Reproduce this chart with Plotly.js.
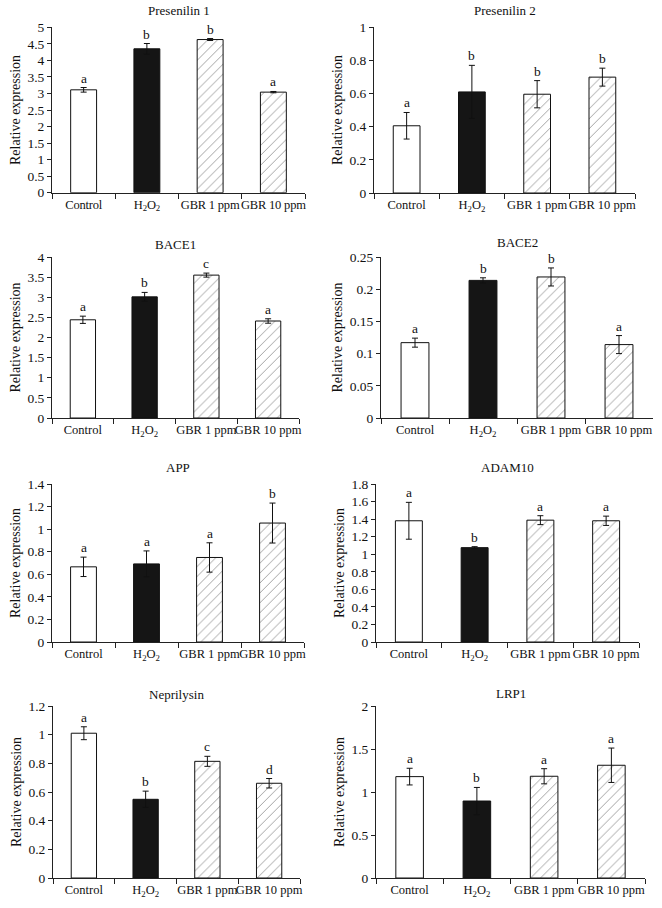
<!DOCTYPE html>
<html>
<head>
<meta charset="utf-8">
<script src="https://cdn.plot.ly/plotly-3.0.1.min.js"></script>
<style>
html,body{margin:0;padding:0;background:#fff;}
#chart{width:662px;height:908px;}
.xtick text{letter-spacing:-0.2px;}
</style>
</head>
<body>
<div id="chart"></div>
<script>
// ---------- DATA ----------
const categories = ['Control', 'H2O2', 'GBR 1 ppm', 'GBR 10 ppm'];
const tickLabels = ['Control', 'H<sub>2</sub>O<sub>2</sub>', 'GBR 1 ppm', 'GBR 10 ppm'];
const geneNames = ['Presenilin 1', 'Presenilin 2', 'BACE1', 'BACE2', 'APP', 'ADAM10', 'Neprilysin', 'LRP1'];

const presenilin1Mean = [3.11, 4.35, 4.63, 3.04];
const presenilin1Err = [0.07, 0.16, 0.03, 0.02];
const presenilin1Letters = ['a', 'b', 'b', 'a'];

const presenilin2Mean = [0.405, 0.609, 0.595, 0.698];
const presenilin2Err = [0.08, 0.16, 0.082, 0.054];
const presenilin2Letters = ['a', 'b', 'b', 'b'];

const bace1Mean = [2.44, 3.01, 3.55, 2.41];
const bace1Err = [0.09, 0.11, 0.05, 0.055];
const bace1Letters = ['a', 'b', 'c', 'a'];

const bace2Mean = [0.117, 0.2137, 0.219, 0.114];
const bace2Err = [0.007, 0.004, 0.014, 0.014];
const bace2Letters = ['a', 'b', 'b', 'a'];

const appMean = [0.666, 0.692, 0.749, 1.054];
const appErr = [0.086, 0.115, 0.13, 0.177];
const appLetters = ['a', 'a', 'a', 'b'];

const adam10Mean = [1.381, 1.075, 1.388, 1.381];
const adam10Err = [0.21, 0.011, 0.051, 0.053];
const adam10Letters = ['a', 'b', 'a', 'a'];

const neprilysinMean = [1.01, 0.549, 0.814, 0.661];
const neprilysinErr = [0.045, 0.057, 0.035, 0.033];
const neprilysinLetters = ['a', 'b', 'c', 'd'];

const lrp1Mean = [1.179, 0.895, 1.183, 1.311];
const lrp1Err = [0.097, 0.158, 0.088, 0.2];
const lrp1Letters = ['a', 'b', 'a', 'a'];

const yMax = [5, 1, 4, 0.25, 1.4, 1.8, 1.2, 2];
const yStep = [0.5, 0.2, 0.5, 0.05, 0.2, 0.2, 0.2, 0.5];

const allMeans = [presenilin1Mean, presenilin2Mean, bace1Mean, bace2Mean, appMean, adam10Mean, neprilysinMean, lrp1Mean];
const allErrs = [presenilin1Err, presenilin2Err, bace1Err, bace2Err, appErr, adam10Err, neprilysinErr, lrp1Err];
const allLetters = [presenilin1Letters, presenilin2Letters, bace1Letters, bace2Letters, appLetters, adam10Letters, neprilysinLetters, lrp1Letters];

// ---------- LAYOUT GEOMETRY (pixels) ----------
const W = 662, H = 908;
// [left, right, top, bottom, titleGap]
const boxes = [
  [52, 305, 27.3, 192.7, 7],
  [374, 635, 27, 193, 7],
  [52, 299, 257, 418, 3],
  [381, 653, 257, 418, 5],
  [52, 304, 484, 642, 7],
  [376, 639, 484, 642, 7],
  [53, 300, 706, 878, 2],
  [376, 645, 706, 878, 3]
];

const FONT = 'Liberation Serif, Times New Roman, DejaVu Serif, serif';
const AX = '#222';

const data = [];
const layout = {
  width: W, height: H,
  margin: {l: 0, r: 0, t: 0, b: 0},
  paper_bgcolor: '#fff', plot_bgcolor: '#fff',
  showlegend: false,
  font: {family: FONT, color: '#111', size: 13},
  bargap: 0.59,
  annotations: []
};

boxes.forEach((b, i) => {
  const n = i + 1;
  const xa = 'xaxis' + (n === 1 ? '' : n);
  const ya = 'yaxis' + (n === 1 ? '' : n);
  const xr = 'x' + (n === 1 ? '' : n);
  const yr = 'y' + (n === 1 ? '' : n);
  data.push({
    type: 'bar',
    x: categories,
    y: allMeans[i],
    xaxis: xr, yaxis: yr,
    marker: {
      color: ['#ffffff', '#151515', '#ffffff', '#ffffff'],
      line: {color: '#111', width: 1},
      pattern: {shape: ['', '', '/', '/'], fgcolor: '#111', bgcolor: '#ffffff', size: 7, solidity: 0.14, fillmode: 'overlay'}
    },
    error_y: {type: 'data', array: allErrs[i], visible: true, color: '#111', thickness: 1, width: 3},
    hoverinfo: 'skip'
  });
  layout[xa] = {
    domain: [b[0] / W, b[1] / W],
    anchor: yr,
    type: 'category',
    categoryorder: 'array', categoryarray: categories,
    tickvals: categories, ticktext: tickLabels,
    tickson: 'boundaries',
    tickangle: 0,
    ticks: 'outside', ticklen: 5, tickcolor: AX, tickwidth: 1,
    showline: true, linecolor: AX, linewidth: 1,
    showgrid: false, zeroline: false,
    tickfont: {family: FONT, size: 12.5, color: '#111'},
    fixedrange: true
  };
  layout[ya] = {
    domain: [1 - b[3] / H, 1 - b[2] / H],
    anchor: xr,
    range: [0, yMax[i]],
    dtick: yStep[i], tick0: 0,
    ticks: 'outside', ticklen: 4, tickcolor: AX, tickwidth: 1,
    showline: true, linecolor: AX, linewidth: 1,
    showgrid: false, zeroline: false,
    tickfont: {family: FONT, size: 13.5, color: '#111'},
    title: {text: 'Relative expression', font: {family: FONT, size: 14, color: '#111'}, standoff: 3},
    fixedrange: true
  };
  layout.annotations.push({
    text: geneNames[i], xref: 'paper', yref: 'paper',
    x: (b[0] + b[1]) / 2 / W, y: 1 - b[2] / H,
    xanchor: 'center', yanchor: 'bottom', yshift: b[4], showarrow: false,
    font: {family: FONT, size: 13, color: '#111'}
  });
  allLetters[i].forEach((l, j) => {
    layout.annotations.push({
      text: l, xref: xr, yref: yr,
      x: categories[j], y: allMeans[i][j] + allErrs[i][j],
      xanchor: 'center', yanchor: 'bottom', yshift: 0, showarrow: false,
      font: {family: FONT, size: 13.5, color: '#111'}
    });
  });
});

Plotly.newPlot('chart', data, layout, {staticPlot: true, displayModeBar: false});
</script>
</body>
</html>
